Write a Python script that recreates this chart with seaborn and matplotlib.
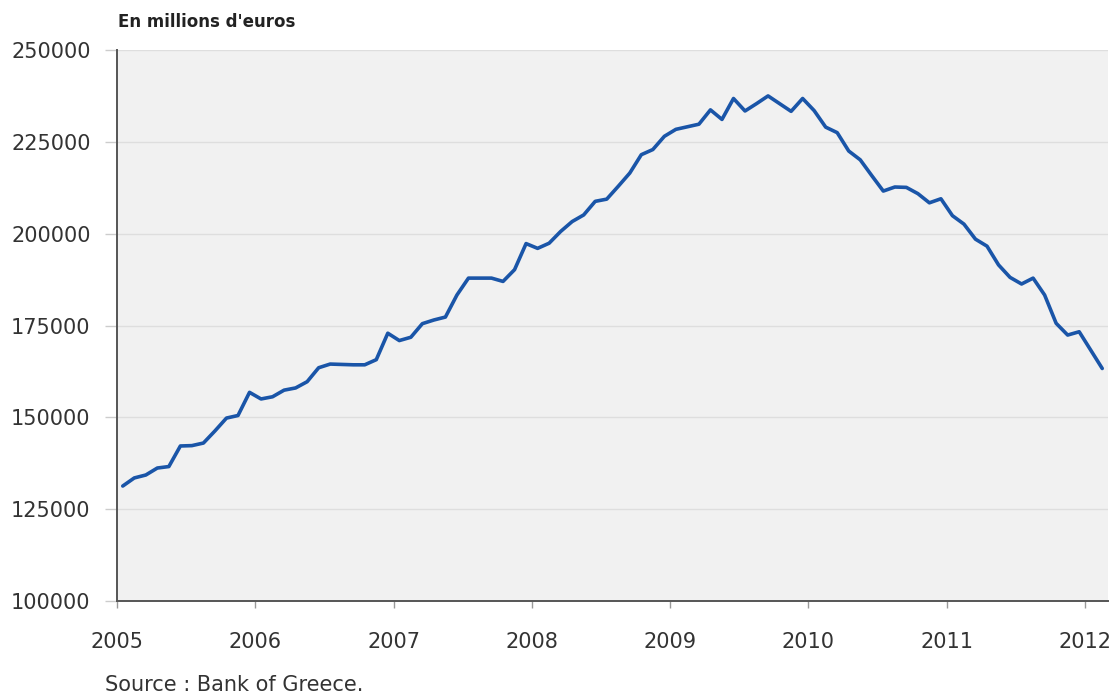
import numpy as np
import pandas as pd
import seaborn as sns
import matplotlib.pyplot as plt

# Dépôts mensuels (millions d'euros), janvier 2005 - février 2012
start_year = 2005
values = [
    # 2005
    131300, 133500, 134300, 136200, 136600, 142200, 142300, 143000, 146300, 149800, 150500, 156800,
    # 2006
    155000, 155600, 157400, 158000, 159700, 163500, 164500, 164400, 164300, 164300, 165700, 172900,
    # 2007
    170900, 171800, 175500, 176500, 177300, 183300, 187900, 187900, 187900, 187000, 190200, 197300,
    # 2008
    196000, 197400, 200600, 203300, 205100, 208800, 209400, 212900, 216500, 221500, 222900, 226500,
    # 2009
    228400, 229100, 229800, 233700, 231100, 236800, 233400, 235400, 237500, 235400, 233300, 236800,
    # 2010
    233500, 229000, 227500, 222500, 220100, 215800, 211600, 212700, 212600, 210900, 208400, 209500,
    # 2011
    204900, 202600, 198500, 196600, 191500, 188100, 186300, 187900, 183300, 175600, 172400, 173300,
    # 2012
    168300, 163300,
]
year_ticks = list(range(2005, 2013))
y_ticks = [100000, 125000, 150000, 175000, 200000, 225000, 250000]

# milieu de chaque mois en années décimales
months = np.arange(len(values))
df = pd.DataFrame({"annee": start_year + (months + 0.5) / 12, "depots": values})

sns.set_style("white", {
    "axes.facecolor": "#f1f1f1",
    "axes.edgecolor": "#555555",
    "grid.color": "#dedede",
})
plt.rcParams["font.family"] = ["DejaVu Sans"]

fig = plt.figure(figsize=(11.11, 6.95), dpi=100)
ax = fig.add_axes([117 / 1111, 94 / 695, 991 / 1111, 551 / 695])

sns.lineplot(data=df, x="annee", y="depots", ax=ax, color="#1a55a8", linewidth=2.6)

ax.set_xlim(2005, 2012 + 2.0 / 12)
ax.set_ylim(100000, 250000)
ax.set_xticks(year_ticks)
ax.set_xticklabels([str(y) for y in year_ticks])
ax.set_yticks(y_ticks)
ax.set_yticklabels([str(v) for v in y_ticks])
ax.yaxis.grid(True, linewidth=1.0)
ax.set_axisbelow(True)
ax.set_xlabel("")
ax.set_ylabel("")

for side in ["top", "right"]:
    ax.spines[side].set_visible(False)
for side in ["left", "bottom"]:
    ax.spines[side].set_linewidth(1.4)

ax.tick_params(axis="x", bottom=True, direction="out", length=5, width=1,
               color="#999999", pad=17, labelsize=15, labelcolor="#333333")
ax.tick_params(axis="y", left=True, direction="out", length=9, width=1,
               color="#cccccc", pad=10, labelsize=15, labelcolor="#333333")

fig.text(118 / 1111, 1 - 22 / 695, "En millions d'euros", fontsize=12,
         fontweight="bold", color="#222222", ha="left", va="center")
fig.text(105 / 1111, 1 - 685 / 695, "Source : Bank of Greece.", fontsize=15,
         color="#333333", ha="left", va="center")

fig.savefig("out.png", dpi=100)
